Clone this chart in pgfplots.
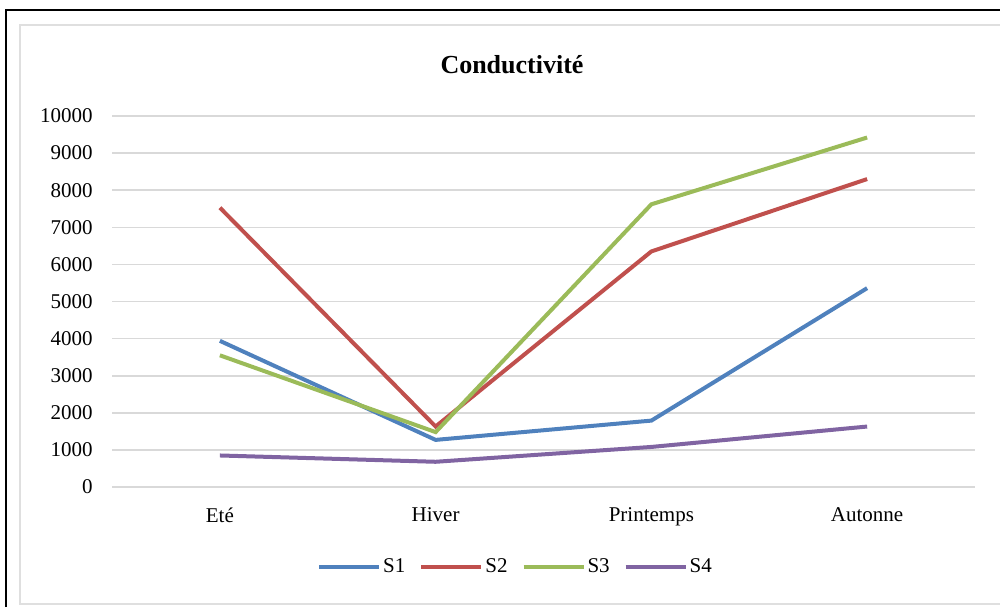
\documentclass[border=0pt]{standalone}
\usepackage{fontspec}
\setmainfont{Liberation Serif}
\usepackage{pgfplots}
\pgfplotsset{compat=1.18}
\definecolor{sone}{HTML}{4F81BD}
\definecolor{stwo}{HTML}{C0504D}
\definecolor{sthree}{HTML}{9BBB59}
\definecolor{sfour}{HTML}{8064A2}
\definecolor{gridc}{HTML}{D9D9D9}
\begin{document}
\begin{tikzpicture}
\path[use as bounding box] (0,0) rectangle (500pt,303.5pt);
\draw[black, line width=1pt] (3pt,0) -- (3pt,298.5pt) -- (500pt,298.5pt);
\draw[gray!25, line width=1.2pt] (500pt,1.5pt) -- (10pt,1.5pt) -- (10pt,291pt) -- (500pt,291pt);
\node[font=\bfseries\fontsize{13}{15}\selectfont] at (256pt,271pt) {Conductivité};
\begin{axis}[
  at={(56pt,60pt)}, anchor=south west,
  scale only axis, width=431.5pt, height=185.5pt,
  xmin=-0.5, xmax=3.5, ymin=0, ymax=10000,
  xtick={0,1,2,3}, xticklabels={Eté,Hiver,Printemps,Autonne},
  ytick={0,1000,...,10000},
  axis line style={draw=none},
  major tick length=0pt,
  ymajorgrids, grid style={gridc, line width=0.8pt},
  tick label style={font=\fontsize{10.5}{12}\selectfont},
  /pgf/number format/assume math mode=true,
  scaled y ticks=false,
  yticklabel={\pgfmathprintnumber[fixed,1000 sep={}]{\tick}},
  yticklabel style={inner sep=0pt, anchor=east, xshift=-9.5pt},
  xticklabel style={inner sep=0pt, anchor=north, yshift=-10pt},
  legend style={at={(axis description cs:0.4676,-0.2156)}, anchor=center, draw=none,
    font=\fontsize{10.5}{12}\selectfont, column sep=0pt,
    nodes={inner sep=1pt},
    /tikz/every even column/.append style={column sep=6pt}},
  legend columns=4,
  legend image code/.code={\draw[#1] (0pt,0pt) -- (30pt,0pt);},
  every axis plot/.append style={line width=2pt, no markers},
]
\addplot[sone] coordinates {(0,3940) (1,1270) (2,1790) (3,5360)};
\addplot[stwo] coordinates {(0,7530) (1,1630) (2,6350) (3,8300)};
\addplot[sthree] coordinates {(0,3550) (1,1480) (2,7620) (3,9420)};
\addplot[sfour] coordinates {(0,850) (1,680) (2,1080) (3,1630)};
\legend{S1,S2,S3,S4}
\end{axis}
\end{tikzpicture}
\end{document}
